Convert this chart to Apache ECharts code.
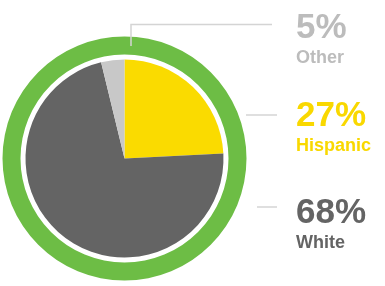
<!DOCTYPE html>
<html>
<head>
<meta charset="utf-8">
<title>Ethnicity</title>
<script src="https://cdn.jsdelivr.net/npm/echarts@6/dist/echarts.min.js"></script>
<style>
html,body{margin:0;padding:0;background:#fff;}
#chart{width:385px;height:286px;}
</style>
</head>
<body>
<div id="chart"></div>
<script>
// slice sizes as drawn, clockwise from 12 o'clock
var names = ['Hispanic', 'White', 'Other'];
var sliceValues = [24.2, 72, 3.8];
// percentages printed beside the pie
var labelPercents = [27, 68, 5];

var colors = ['#fadb00', '#646464', '#c8c8c8'];
var textColors = ['#f9d800', '#646464', '#bcbcbc'];
// where each label block and its leader line go
var labelSpots = [
    {x: 296, y: 96, line: [[246, 115], [262, 115], [277, 115]]},
    {x: 296, y: 193, line: [[257, 207], [267, 207], [277, 207]]},
    {x: 296, y: 8, line: [[131, 46], [131, 24.5], [272, 24.5]]}
];

var chart = echarts.init(document.getElementById('chart'));
var pieData = [];
for (var i = 0; i < names.length; i++) {
    pieData.push({
        value: sliceValues[i],
        name: names[i],
        itemStyle: {color: colors[i]},
        label: {
            formatter: '{p|' + labelPercents[i] + '%}\n{n|' + names[i] + '}',
            rich: {
                p: {fontSize: 35, fontWeight: 'bold', color: textColors[i], lineHeight: 40, fontFamily: 'Liberation Sans'},
                n: {fontSize: 18, fontWeight: 'bold', color: textColors[i], lineHeight: 20, fontFamily: 'Liberation Sans'}
            }
        }
    });
}

chart.setOption({
    animation: false,
    series: [
        {
            type: 'pie',
            silent: true,
            z: 1,
            center: [124.5, 158.5],
            radius: [104, 122],
            label: {show: false},
            labelLine: {show: false},
            data: [{value: 1, itemStyle: {color: '#6dbd45'}}]
        },
        {
            type: 'pie',
            z: 2,
            center: [124.5, 158.5],
            radius: [0, 99],
            startAngle: 90,
            clockwise: true,
            avoidLabelOverlap: false,
            itemStyle: {borderWidth: 0},
            label: {show: true, align: 'left', overflow: 'none', width: 120},
            labelLine: {show: true, lineStyle: {color: '#d4d4d4', width: 1.5}},
            labelLayout: function (params) {
                var s = labelSpots[params.dataIndex];
                return {
                    x: s.x,
                    y: s.y,
                    align: 'left',
                    verticalAlign: 'top',
                    labelLinePoints: s.line
                };
            },
            data: pieData
        }
    ]
});
</script>
</body>
</html>
